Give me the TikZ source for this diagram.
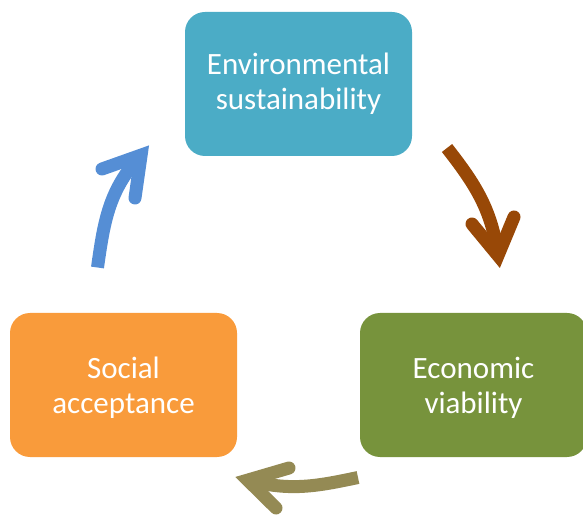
\documentclass[tikz,border=0pt]{standalone}
\usepackage{fontspec}
\setmainfont{Carlito}
\definecolor{envblue}{HTML}{4BACC6}
\definecolor{econgreen}{HTML}{77933C}
\definecolor{socorange}{HTML}{F99B3B}
\definecolor{arrbrown}{HTML}{984807}
\definecolor{arrolive}{HTML}{948A54}
\definecolor{arrblue}{HTML}{558ED5}
\tikzset{
  pillar/.style={rounded corners=20pt, minimum width=227pt, minimum height=144pt,
    inner sep=0pt, text=white, align=center,
    font=\fontsize{31}{35}\selectfont},
  shaft/.style={line width=13pt},
  barb/.style={line width=13pt, line cap=round, line join=miter}
}
\begin{document}
\begin{tikzpicture}[x=1pt,y=1pt]
\useasboundingbox (0,0) rectangle (583,514);
\node [pillar, fill=envblue] (env) at (298.5,430) {Environmental\\sustainability};
\node [pillar, fill=econgreen, text depth=0pt] (econ) at (473.5,129) {Economic\\viability};
\node [pillar, fill=socorange, text depth=0pt] (soc) at (123.5,129) {Social\\acceptance};
% environmental -> economic
\coordinate (envout) at (447,366);
\coordinate (econin) at (498,258.5);
\coordinate (econl) at (472,290);
\coordinate (econr) at (514,297);
\draw [shaft, arrbrown] (envout) to[out=-52,in=98] (econin);
\draw [barb, arrbrown] (econl) -- (econin) -- (econr);
% economic -> social
\coordinate (econout) at (358,36.5);
\coordinate (socin) at (247.7,33.9);
\coordinate (socl) at (289,46);
\coordinate (socr) at (276,6);
\draw [shaft, arrolive] (econout) to[out=192,in=-15] (socin);
\draw [barb, arrolive] (socl) -- (socin) -- (socr);
% social -> environmental
\coordinate (socout) at (97.5,246.5);
\coordinate (envin) at (141.1,358.9);
\coordinate (envl) at (102,345);
\coordinate (envr) at (135,316);
\draw [shaft, arrblue] (socout) to[out=82,in=227] (envin);
\draw [barb, arrblue] (envl) -- (envin) -- (envr);
\end{tikzpicture}
\end{document}
